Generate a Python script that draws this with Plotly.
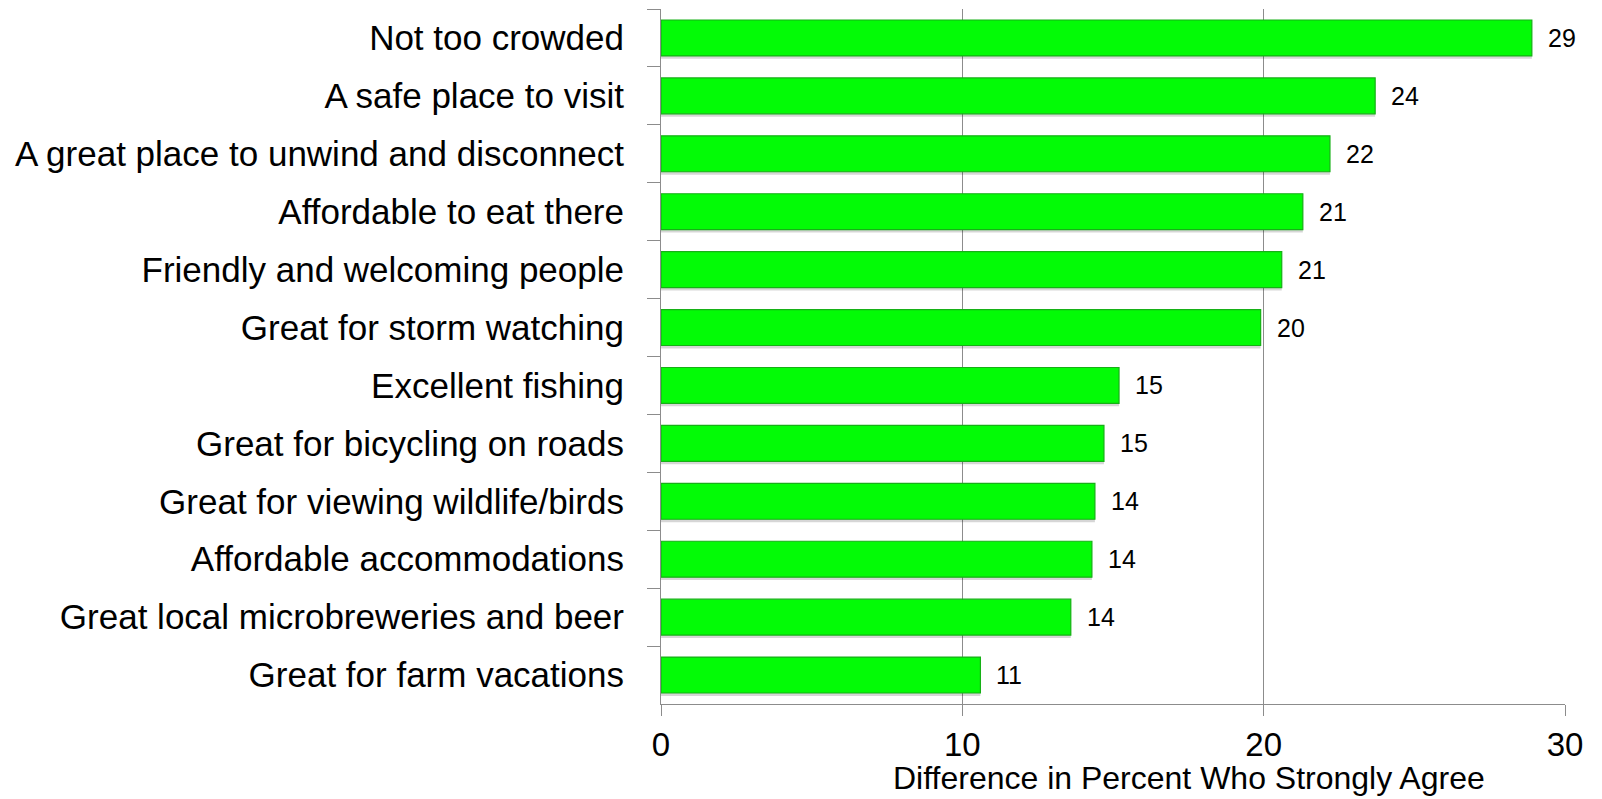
import plotly.graph_objects as go

# Attributes, listed top to bottom
categories = [
    "Not too crowded",
    "A safe place to visit",
    "A great place to unwind and disconnect",
    "Affordable to eat there",
    "Friendly and welcoming people",
    "Great for storm watching",
    "Excellent fishing",
    "Great for bicycling on roads",
    "Great for viewing wildlife/birds",
    "Affordable accommodations",
    "Great local microbreweries and beer",
    "Great for farm vacations",
]
# Difference in percent who strongly agree
values = [28.9, 23.7, 22.2, 21.3, 20.6, 19.9, 15.2, 14.7, 14.4, 14.3, 13.6, 10.6]

x_ticks = [0, 10, 20, 30]
x_title = "Difference in Percent Who Strongly Agree"

BAR_W = 0.62
GRID = "#8c8c8c"
FONT = "Liberation Sans, Arial, sans-serif"

W, H = 1602, 799
ML, MR, MT, MB = 661, 37, 9, 95

fig = go.Figure()

# soft drop shadow under each bar
fig.add_trace(go.Bar(
    x=values, y=categories, orientation="h",
    width=BAR_W, offset=-BAR_W / 2 + 0.05,
    marker=dict(color="rgba(0,0,0,0.16)", line=dict(width=0)),
    hoverinfo="skip", showlegend=False,
))
# main green bars
fig.add_trace(go.Bar(
    x=values, y=categories, orientation="h",
    width=BAR_W, offset=-BAR_W / 2,
    marker=dict(color="#03fb06", line=dict(color="#16b016", width=1.2)),
    showlegend=False,
))

# value labels to the right of each bar
for c, v in zip(categories, values):
    fig.add_annotation(
        x=v, y=c, xref="x", yref="y", text=f"{int(round(v))}",
        showarrow=False, xanchor="left", yanchor="middle", xshift=14,
        font=dict(family=FONT, size=25, color="#000"),
    )

# axis title, set to the right under the axis
plot_w = W - ML - MR
plot_h = H - MT - MB
fig.add_annotation(
    x=(1189 - ML) / plot_w, y=(H - MB - 778) / plot_h,
    xref="paper", yref="paper", text=x_title, showarrow=False,
    xanchor="center", yanchor="middle",
    font=dict(family=FONT, size=32, color="#000"),
)

fig.update_layout(
    width=W, height=H,
    margin=dict(l=ML, r=MR, t=MT, b=MB),
    paper_bgcolor="white", plot_bgcolor="white",
    barmode="overlay",
    xaxis=dict(
        range=[0, 30], tickvals=x_ticks, ticktext=[str(t) for t in x_ticks],
        showgrid=True, gridcolor=GRID, gridwidth=1, zeroline=False,
        showline=True, linecolor=GRID, linewidth=1,
        ticks="outside", ticklen=11, tickcolor=GRID, automargin=False,
        tickfont=dict(family=FONT, size=33, color="#000"),
    ),
    yaxis=dict(
        type="category", categoryorder="array", categoryarray=categories,
        autorange="reversed",
        showline=True, linecolor=GRID, linewidth=1,
        ticks="outside", ticklen=13, tickcolor=GRID, tickson="boundaries",
        ticklabelstandoff=29, automargin=False,
        tickfont=dict(family=FONT, size=35, color="#000"),
        showgrid=False,
    ),
)

fig.write_html("out.html")
